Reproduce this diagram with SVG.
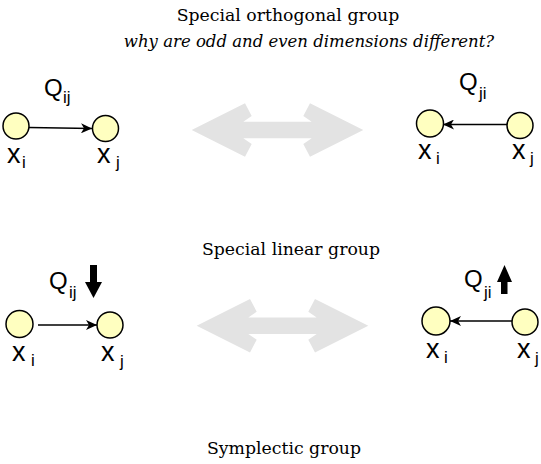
<svg xmlns="http://www.w3.org/2000/svg" width="541" height="464" viewBox="0 0 541 464">
<style>
.title{font-family:"DejaVu Serif","Liberation Serif",serif;font-size:17.3px;fill:#000}
.ital{font-style:italic;font-size:16.5px}
.node circle{fill:#ffffc0;stroke:#000;stroke-width:1.5}
.lbl{font-family:"Liberation Sans",Arial,sans-serif;fill:#000}
.big{font-size:27px}
.q{font-size:24px}
.sub{font-size:17px}
.conn line{stroke:#000;stroke-width:1.5}
.dbl{fill:#e3e3e3}
</style>
<defs>
<marker id="ah" markerWidth="12" markerHeight="10" refX="11" refY="5" orient="auto" markerUnits="userSpaceOnUse">
<path d="M0,0 L11,5 L0,10 L3,5 Z" fill="#000"/>
</marker>
<path id="dblarrow" d="M191.7,130 L245,103.3 L251.7,116 L243.3,121.7 L311.7,121.7 L303.3,116 L310,103.3 L363.3,130 L310,156.7 L303.3,144 L311.7,138.3 L243.3,138.3 L251.7,144 L245,156.7 Z"/>
</defs>

<text class="title" x="288" y="21" text-anchor="middle">Special orthogonal group</text>
<text class="title ital" x="309" y="47" text-anchor="middle">why are odd and even dimensions different?</text>
<text class="title" x="291" y="255" text-anchor="middle">Special linear group</text>
<text class="title" x="284" y="454" text-anchor="middle">Symplectic group</text>

<use href="#dblarrow" class="dbl"/>
<use href="#dblarrow" class="dbl" transform="translate(5,195.7)"/>

<g id="connectors" class="conn">
<line x1="29" y1="127.5" x2="92" y2="128.5" marker-end="url(#ah)"/>
<line x1="507" y1="124.5" x2="443" y2="124.5" marker-end="url(#ah)"/>
<line x1="38" y1="325" x2="97" y2="325" marker-end="url(#ah)"/>
<line x1="512" y1="321" x2="450" y2="321" marker-end="url(#ah)"/>
</g>

<g id="so-left">
<g id="so-xi" class="node"><circle cx="16" cy="126" r="13"/>
<text class="lbl big" x="7" y="163">x</text><text class="lbl sub" x="22" y="168">i</text></g>
<g id="so-xj" class="node"><circle cx="105.5" cy="128.5" r="13"/>
<text class="lbl big" x="97" y="163">x</text><text class="lbl sub" x="116" y="168">j</text></g>
<text class="lbl q" x="44" y="96">Q</text><text class="lbl sub" x="63" y="103">ij</text>
</g>

<g id="so-right">
<g id="so-xi2" class="node"><circle cx="430" cy="123.5" r="13.5"/>
<text class="lbl big" x="418" y="159">x</text><text class="lbl sub" x="436" y="164">i</text></g>
<g id="so-xj2" class="node"><circle cx="520" cy="125.5" r="13"/>
<text class="lbl big" x="512" y="159">x</text><text class="lbl sub" x="530" y="164">j</text></g>
<text class="lbl q" x="459" y="90">Q</text><text class="lbl sub" x="479" y="99">ji</text>
</g>

<g id="sl-left">
<g id="sl-xi" class="node"><circle cx="19.5" cy="324" r="13.5"/>
<text class="lbl big" x="12" y="361">x</text><text class="lbl sub" x="31" y="366">i</text></g>
<g id="sl-xj" class="node"><circle cx="110" cy="325" r="13"/>
<text class="lbl big" x="101" y="361">x</text><text class="lbl sub" x="120" y="367">j</text></g>
<text class="lbl q" x="49" y="289">Q</text><text class="lbl sub" x="69" y="298">ij</text>
<path id="down-arrow" d="M90,265 L97,265 L97,282 L102,282 L93.5,298 L85,282 L90,282 Z" fill="#000"/>
</g>

<g id="sl-right">
<g id="sl-xi2" class="node"><circle cx="436" cy="321" r="14"/>
<text class="lbl big" x="426" y="358">x</text><text class="lbl sub" x="444" y="363">i</text></g>
<g id="sl-xj2" class="node"><circle cx="525" cy="322" r="13"/>
<text class="lbl big" x="517" y="358">x</text><text class="lbl sub" x="535" y="364">j</text></g>
<text class="lbl q" x="464" y="287">Q</text><text class="lbl sub" x="484" y="298">ji</text>
<path id="up-arrow" d="M504.5,265 L512,282 L507.5,282 L507.5,294 L501,294 L501,282 L497,282 Z" fill="#000"/>
</g>
</svg>
